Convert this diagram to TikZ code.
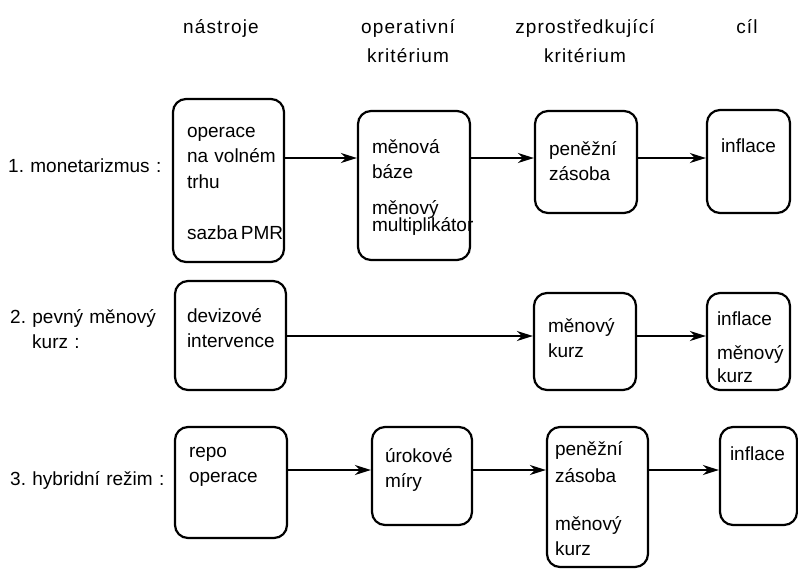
\documentclass[tikz,border=0pt]{standalone}
\usepackage{fontspec}
\setmainfont{Liberation Sans}
\newfontfamily\colheadfam{Liberation Sans}[LetterSpace=6]
\usepackage{tikz}
\usetikzlibrary{arrows.meta}
\newcommand{\cellfont}{\fontsize{19}{25.5}\selectfont\frenchspacing}
\newcommand{\colheadfont}{\colheadfam\fontsize{19}{29}\selectfont}

\begin{document}
\begin{tikzpicture}[x=1pt,y=-1pt,
	box/.style = {draw, line width=2.2pt, rounded corners=13pt, inner ysep=0pt, inner xsep=14pt, align=left, font=\cellfont},
	arr/.style = {line width=2pt, -{Stealth[length=16pt,width=10pt,inset=5pt]}},
	colhead/.style = {font=\colheadfont, align=center, text width=160pt, inner sep=0pt, anchor=base},
	rowlab/.style = {font=\cellfont, align=left, text width=165pt, inner sep=0pt, anchor=base west}]
	\useasboundingbox (0,0) rectangle (798,568);
		\node[colhead] (h1) at (221,33) {nástroje};
		\node[colhead] (h2) at (408,33) {operativní\\kritérium};
		\node[colhead] (h3) at (585,33) {zprostředkující\\kritérium};
		\node[colhead] (h4) at (747,33) {cíl};
		\node[rowlab] (l1) at (8,172) {1. monetarizmus :};
		\node[rowlab] (l2) at (10,323) {2. pevný měnový\\\hspace*{22pt}kurz :};
		\node[rowlab] (l3) at (10,485) {3. hybridní režim :};
		\node[box, text width=83pt, text height=38pt, text depth=125pt] (a1) at (228.5,180.5) {operace\\\mbox{na volném}\\trhu\\[26pt]\mbox{sazba\,PMR}};
		\node[box, text width=84pt, text height=42pt, text depth=107pt] (b1) at (414,185.5) {měnová\\báze\\[10pt]měnový\\[-8pt]multiplikátor};
		\node[box, text width=74pt, text height=44pt, text depth=58pt] (c1) at (586,162) {peněžní\\zásoba};
		\node[box, text width=55pt, text height=42pt, text depth=61pt] (d1) at (748.5,161.5) {inflace};
		\node[box, inner xsep=12pt, text width=87pt, text height=41pt, text depth=68pt] (a2) at (230.5,335.5) {devizové\\intervence};
		\node[box, text width=74pt, text height=39pt, text depth=58pt] (c2) at (585,341.5) {měnový\\kurz};
		\node[box, inner xsep=10pt, text width=63pt, text height=32pt, text depth=65pt] (d2) at (748.5,341.5) {inflace\\[9pt]měnový\\[-3pt]kurz};
		\node[box, text width=84pt, text height=30pt, text depth=81pt] (a3) at (231,482.5) {repo\\operace};
		\node[box, inner xsep=13pt, text width=74pt, text height=35pt, text depth=63pt] (b3) at (422,476) {úrokové\\míry};
		\node[box, inner xsep=8pt, text width=85pt, text height=28pt, text depth=112pt] (c3) at (597.5,497) {peněžní\\[2pt]zásoba\\[22pt]měnový\\kurz};
		\node[box, inner xsep=10pt, text width=57pt, text height=33pt, text depth=65pt] (d3) at (758.5,476) {inflace};
		\coordinate (r1) at (0,158);
		\coordinate (r2) at (0,336);
		\coordinate (r3) at (0,470);
		\draw[arr] (a1.east |- r1) -- (b1.west |- r1);
		\draw[arr] (b1.east |- r1) -- (c1.west |- r1);
		\draw[arr] (c1.east |- r1) -- (d1.west |- r1);
		\draw[arr] (a2.east |- r2) -- (c2.west |- r2);
		\draw[arr] (c2.east |- r2) -- (d2.west |- r2);
		\draw[arr] (a3.east |- r3) -- (b3.west |- r3);
		\draw[arr] (b3.east |- r3) -- (c3.west |- r3);
		\draw[arr] (c3.east |- r3) -- (d3.west |- r3);
	\end{tikzpicture}
\end{document}
